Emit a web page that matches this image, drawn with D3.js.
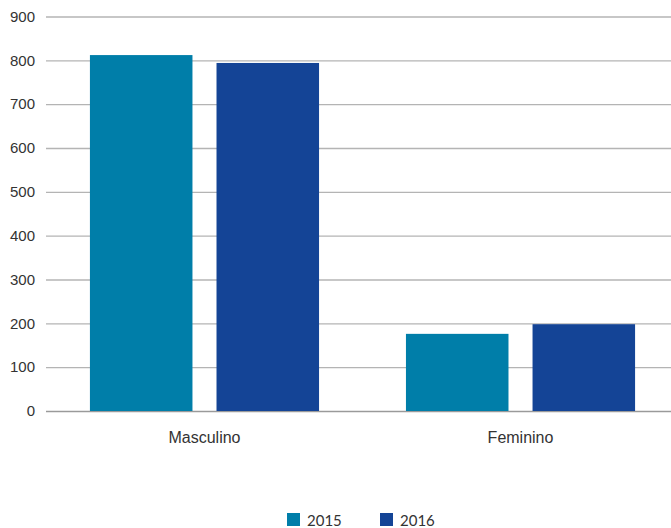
<!DOCTYPE html>
<html>
<head>
<meta charset="utf-8">
<script src="https://cdn.jsdelivr.net/npm/d3@7"></script>
<style>
  html, body { margin: 0; padding: 0; background: #fff; }
  svg { display: block; font-family: Lato, "Open Sans", sans-serif; }
</style>
</head>
<body>
<svg id="chart" width="671" height="528"></svg>
<script>
// Data
const categories = ["Masculino", "Feminino"];
const years = ["2015", "2016"];
const values2015 = [812, 176];
const values2016 = [794, 198];
const yTicks = [0, 100, 200, 300, 400, 500, 600, 700, 800, 900];
const colors = ["#007ea9", "#144496"];

const seriesValues = [values2015, values2016];
const svg = d3.select("#chart");

const y = d3.scaleLinear().domain([0, 900]).range([411, 16.5]);

const x0 = d3.scaleBand()
  .domain(categories)
  .range([46, 679])
  .paddingInner(0.275)
  .paddingOuter(0.139);

const x1 = d3.scaleBand()
  .domain(years)
  .range([0, x0.bandwidth()])
  .paddingInner(0.19);

// Gridlines and value axis labels
const yAxis = d3.axisLeft(y)
  .tickValues(yTicks)
  .tickSize(-(671 - 46))
  .tickPadding(11)
  .tickFormat(d3.format("d"));

const gy = svg.append("g")
  .attr("transform", "translate(46,0)")
  .call(yAxis);
gy.select(".domain").remove();
gy.selectAll(".tick line")
  .attr("stroke", d => d === 0 ? "#9a9a9a" : "#b4b4b4")
  .attr("stroke-width", 1.3);
gy.selectAll(".tick text")
  .attr("fill", "#333")
  .attr("font-size", 15)
  .attr("x", -11);

// Bars
const groups = svg.append("g")
  .selectAll("g")
  .data(categories)
  .join("g")
  .attr("transform", d => `translate(${x0(d)},0)`);

groups.selectAll("rect")
  .data((d, i) => years.map((yr, j) => ({ year: yr, value: seriesValues[j][i] })))
  .join("rect")
  .attr("x", d => x1(d.year))
  .attr("width", x1.bandwidth())
  .attr("y", d => y(d.value))
  .attr("height", d => y(0) - y(d.value))
  .attr("fill", (d, j) => colors[j]);

// Category labels
const xAxis = d3.axisBottom(x0).tickSize(0).tickPadding(21);
const gx = svg.append("g")
  .attr("transform", `translate(0,${y(0)})`)
  .call(xAxis);
gx.select(".domain").remove();
gx.selectAll(".tick text")
  .attr("fill", "#333")
  .attr("font-size", 16);

// Legend
const legendX = [287, 380];
const legend = svg.append("g")
  .selectAll("g")
  .data(years)
  .join("g")
  .attr("transform", (d, i) => `translate(${legendX[i]},513)`);
legend.append("rect")
  .attr("width", 13)
  .attr("height", 13)
  .attr("fill", (d, i) => colors[i]);
legend.append("text")
  .attr("x", 20)
  .attr("y", 12.5)
  .attr("fill", "#333")
  .attr("font-size", 15)
  .text(d => d);
</script>
</body>
</html>
